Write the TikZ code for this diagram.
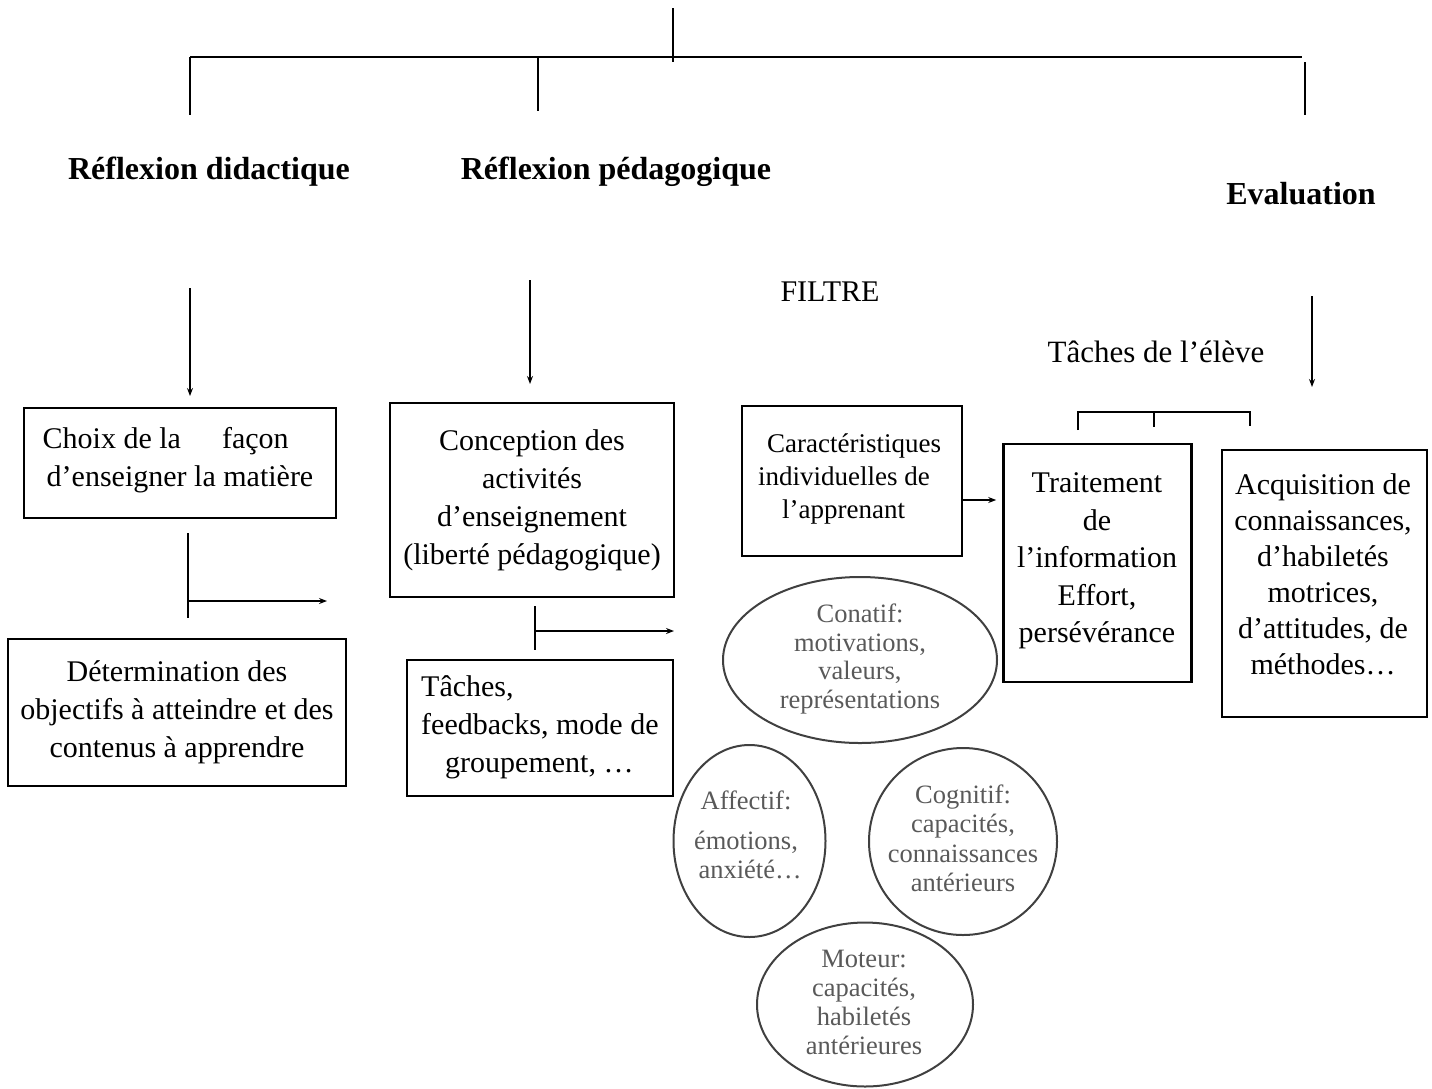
\documentclass[tikz,border=0pt]{standalone}
\usepackage{fontspec}
\setmainfont{Liberation Serif}
\usetikzlibrary{arrows.meta,shapes.geometric}
\definecolor{ovalgray}{HTML}{404040}
\definecolor{ovaltext}{HTML}{595959}
\begin{document}
\begin{tikzpicture}[x=1pt,y=-1pt,
  line/.style={line width=1.2pt},
  arr/.style={line width=1.2pt,-{Stealth[length=8pt,width=6pt]}},
  box/.style={draw,line width=2.6pt,inner sep=0pt},
  txt/.style={font=\fontsize{30}{38}\selectfont,align=center,inner sep=0pt},
  title/.style={font=\fontsize{32}{38}\selectfont\bfseries,inner sep=0pt},
  oval/.style={draw=ovalgray,line width=2pt,ellipse,inner sep=0pt},
  ovaltxt/.style={font=\fontsize{26.5}{29.5}\selectfont,text=ovaltext,align=center,inner sep=0pt}]
\useasboundingbox (0,0) rectangle (1432,1088);

% top tree
\coordinate (top) at (673,8);
\coordinate (topb) at (673,62);
\coordinate (hl) at (190,57);
\coordinate (hr) at (1302,57);
\coordinate (v1a) at (190,57);  \coordinate (v1b) at (190,115);
\coordinate (v2a) at (538,58);  \coordinate (v2b) at (538,111);
\coordinate (v3a) at (1305,62); \coordinate (v3b) at (1305,115);
\draw[line] (top) -- (topb);
\draw[line] (hl) -- (hr);
\draw[line] (v1a) -- (v1b);
\draw[line] (v2a) -- (v2b);
\draw[line] (v3a) -- (v3b);

% titles
\node[title] (t1) at (209,172) {Réflexion didactique};
\node[title] (t2) at (616,172) {Réflexion pédagogique};
\node[title] (t3) at (1301,194) {Evaluation};
\node[txt] (filtre) at (830,292) {FILTRE};
\node[txt,font=\fontsize{31}{38}\selectfont] (taches) at (1156,352) {Tâches de l’élève};

% down arrows
\coordinate (a1a) at (190,288); \coordinate (a1b) at (190,396);
\coordinate (a2a) at (530,280); \coordinate (a2b) at (530,384);
\coordinate (a3a) at (1312,296); \coordinate (a3b) at (1312,387);
\draw[arr] (a1a) -- (a1b);
\draw[arr] (a2a) -- (a2b);
\draw[arr] (a3a) -- (a3b);

% bracket
\coordinate (k1) at (1078,412); \coordinate (k1b) at (1078,430);
\coordinate (k2) at (1154,412); \coordinate (k2b) at (1154,427);
\coordinate (k3) at (1250,412); \coordinate (k3b) at (1250,426);
\draw[line] (k1b) -- (k1) -- (k3) -- (k3b);
\draw[line] (k2) -- (k2b);

% boxes
\node[box,minimum width=312pt,minimum height=110pt] (b1) at (180,463) {};
\node[txt,align=left] (b1t) at (178,460) {Choix de la\hspace{41pt}façon\\\hspace{4pt}d’enseigner la matière};

\node[box,minimum width=338pt,minimum height=147pt] (b2) at (177,712.5)
  [txt] {Détermination des\\objectifs à atteindre et des\\contenus à apprendre};

\node[box,minimum width=284pt,minimum height=194pt] (b3) at (532,500)
  [txt] {Conception des\\activités\\d’enseignement\\(liberté pédagogique)};

\node[box,minimum width=266pt,minimum height=136pt] (b4) at (540,728) {};
\node[txt,align=left,anchor=west] (b4t) at (421,727) {Tâches,\\feedbacks, mode de\\\hspace{24pt}groupement, …};

\node[box,minimum width=220pt,minimum height=150pt] (b5) at (852,481) {};
\node[txt,font=\fontsize{27}{33}\selectfont,align=left,anchor=west] (b5t) at (758,479)
  {\hspace{9pt}Caractéristiques\\individuelles de\\\hspace{24pt}l’apprenant};

\node[box,minimum width=188pt,minimum height=238pt] (b6) at (1097.5,563) {};
\node[txt,font=\fontsize{30}{37.5}\selectfont] (b6t) at (1097,561) {Traitement\\de\\l’information\\Effort,\\persévérance};

\node[box,minimum width=205pt,minimum height=267pt] (b7) at (1324.5,583.5) {};
\node[txt,font=\fontsize{30}{36}\selectfont] (b7t) at (1323,574) {Acquisition de\\connaissances,\\d’habiletés\\motrices,\\d’attitudes, de\\méthodes…};

% side connectors
\coordinate (c1a) at (188,533); \coordinate (c1b) at (188,618);
\coordinate (c1s) at (188,601); \coordinate (c1e) at (327,601);
\draw[line] (c1a) -- (c1b);
\draw[arr] (c1s) -- (c1e);
\coordinate (c3a) at (535,606); \coordinate (c3b) at (535,650);
\coordinate (c3s) at (535,631); \coordinate (c3e) at (674,631);
\draw[line] (c3a) -- (c3b);
\draw[arr] (c3s) -- (c3e);
\draw[arr] ([yshift=-19pt]b5.east) -- ([yshift=-19pt,xshift=-6pt]b5.east -| b6.west);

% ellipses
\node[oval,minimum width=274pt,minimum height=166pt] (conatif) at (860,660) {};
\node[ovaltxt,font=\fontsize{26.5}{28.5}\selectfont] (conatift) at (860,659) {Conatif:\\motivations,\\valeurs,\\représentations};
\node[oval,minimum width=152pt,minimum height=192pt] (affectif) at (749.5,841) {};
\node[ovaltxt] (affectift) at (746,835) {Affectif:\\[10pt]émotions,\\\hspace{8pt}anxiété…};
\node[oval,minimum width=188pt,minimum height=187pt] (cognitif) at (963,841.5) {};
\node[ovaltxt] (cognitift) at (963,838.5) {Cognitif:\\capacités,\\connaissances\\antérieurs};
\node[oval,minimum width=216pt,minimum height=164pt] (moteur) at (865,1004.5) {};
\node[ovaltxt,font=\fontsize{26.5}{29}\selectfont] (moteurt) at (864,1002.5) {Moteur:\\capacités,\\habiletés\\antérieures};
\end{tikzpicture}
\end{document}
